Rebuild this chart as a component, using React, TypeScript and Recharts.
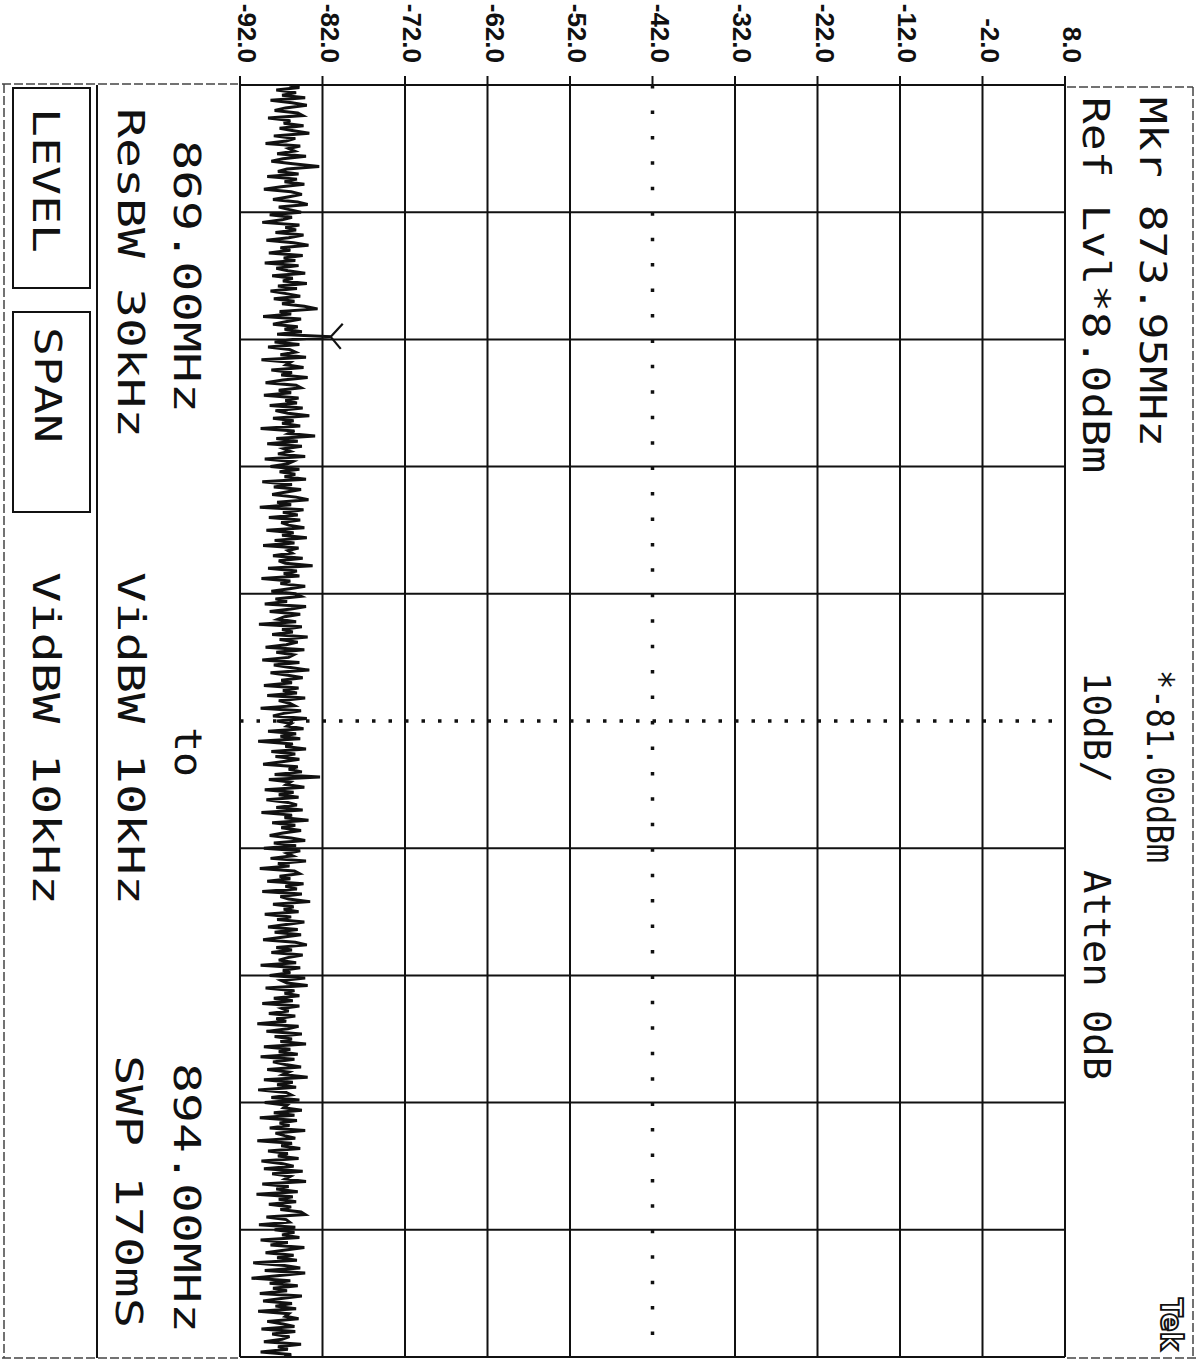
import React from 'react';
import { LineChart, Line, XAxis, YAxis, ReferenceLine, ReferenceDot } from 'recharts';

// ---- data ----
const dbTicks = [-92, -82, -72, -62, -52, -42, -32, -22, -12, -2, 8];
const freqGridMHz = [869, 871.5, 874, 876.5, 879, 881.5, 884, 886.5, 889, 891.5, 894];
const startFreqMHz = 869;
const stopFreqMHz = 894;
const centerDb = -42;
const centerFreqMHz = 881.5;
const markerFreqMHz = 873.95;
const markerLevelDbm = -81.0;

const levelsDbm = [
  -86.0, -84.8, -87.6, -85.2, -86.9, -84.1, -88.3, -85.7, -83.9, -86.5, -87.8, -85.0, -84.4, -88.6, -85.9, -86.7, -84.3, -87.2, -85.5, -83.6,
  -87.9, -85.3, -86.4, -88.9, -84.7, -86.1, -85.4, -87.5, -84.0, -86.8, -88.2, -85.6, -82.4, -86.3, -87.4, -84.9, -88.7, -85.1, -86.6, -84.2,
  -87.0, -89.1, -85.8, -84.5, -86.2, -88.0, -85.0, -83.8, -87.3, -86.0, -84.6, -88.4, -85.7, -86.9, -89.3, -84.8, -86.5, -85.2, -87.7, -84.3,
  -86.1, -88.8, -85.5, -83.7, -87.1, -85.9, -88.5, -84.4, -86.7, -85.3, -89.0, -84.9, -87.6, -86.2, -84.1, -88.1, -85.6, -86.8, -83.9, -87.4,
  -85.1, -88.3, -86.4, -84.7, -87.9, -85.4, -86.9, -84.2, -82.6, -87.2, -85.8, -89.2, -84.6, -86.3, -88.0, -85.0, -86.6, -84.5, -87.5, -81.0,
  -85.6, -87.8, -84.8, -88.6, -86.0, -85.3, -87.1, -84.0, -89.4, -85.9, -86.4, -84.3, -88.2, -85.7, -87.0, -83.8, -86.8, -88.9, -85.2, -84.6,
  -87.3, -85.8, -89.1, -84.9, -86.5, -85.1, -88.4, -84.4, -87.7, -86.2, -83.6, -88.0, -85.5, -86.9, -84.7, -89.5, -85.4, -86.1, -82.9, -87.6,
  -85.0, -88.7, -84.5, -86.7, -85.9, -87.4, -84.1, -89.0, -85.6, -86.3, -88.3, -84.8, -87.2, -85.3, -86.6, -84.0, -89.3, -85.7, -87.9, -84.6,
  -86.4, -88.1, -85.2, -83.7, -87.5, -85.8, -89.6, -84.3, -86.8, -85.0, -88.5, -84.7, -87.0, -86.1, -84.2, -88.8, -85.5, -86.9, -83.9, -87.8,
  -85.4, -89.2, -84.9, -86.2, -85.7, -88.0, -84.4, -87.3, -86.5, -83.2, -88.6, -85.1, -86.7, -84.8, -89.4, -85.9, -87.1, -84.1, -86.0, -88.2,
  -85.3, -84.6, -87.7, -86.3, -89.0, -84.0, -85.8, -88.4, -84.7, -86.6, -87.4, -85.2, -89.7, -84.5, -86.9, -85.6, -88.1, -83.8, -87.2, -85.0,
  -86.4, -88.9, -84.2, -87.6, -85.5, -86.1, -89.3, -84.8, -87.9, -85.9, -83.6, -88.3, -86.2, -84.4, -87.0, -85.7, -89.1, -84.9, -86.8, -85.1,
  -88.7, -84.1, -87.3, -86.0, -85.4, -89.5, -84.6, -86.7, -88.0, -83.9, -87.5, -85.8, -86.3, -84.3, -88.6, -85.2, -87.1, -84.7, -89.8, -85.6,
  -86.5, -84.0, -88.2, -85.3, -87.7, -84.8, -86.9, -89.2, -85.0, -86.1, -84.5, -87.8, -82.3, -88.5, -85.9, -86.4, -84.2, -89.0, -85.5, -87.3,
  -84.9, -88.8, -86.2, -85.1, -87.6, -84.4, -89.4, -85.7, -86.6, -83.7, -88.1, -85.3, -87.0, -84.6, -86.8, -88.4, -85.8, -84.1, -87.9, -85.2,
  -89.1, -84.7, -86.3, -85.6, -88.3, -84.0, -87.4, -86.0, -89.6, -85.4, -84.8, -87.2, -85.9, -88.7, -84.3, -86.5, -85.1, -89.3, -84.5, -87.1,
  -86.1, -83.5, -88.0, -85.5, -86.7, -84.9, -89.0, -85.8, -87.5, -84.2, -86.4, -88.6, -85.0, -87.8, -84.6, -86.9, -89.2, -85.3, -83.9, -87.6,
  -85.7, -88.2, -84.4, -86.2, -87.3, -85.2, -89.5, -84.7, -86.8, -85.9, -88.4, -84.1, -87.0, -86.3, -83.8, -88.9, -85.4, -86.6, -84.8, -87.9,
  -85.6, -89.3, -84.8, -86.9, -86.1, -88.5, -85.3, -87.6, -86.4, -89.9, -84.9, -86.2, -88.8, -84.5, -87.8, -85.7, -87.1, -84.0, -89.1, -85.9,
  -87.3, -85.0, -89.5, -85.4, -88.0, -86.5, -84.6, -88.7, -86.1, -86.8, -83.8, -89.1, -85.6, -87.5, -85.2, -89.8, -86.4, -85.8, -88.2, -84.8,
  -89.0, -86.3, -86.7, -84.5, -87.9, -85.4, -89.6, -85.1, -87.2, -86.0, -88.4, -84.1, -87.7, -86.6, -85.3, -89.9, -85.7, -87.0, -84.7, -88.6,
  -86.2, -87.4, -84.9, -89.4, -86.8, -85.5, -89.1, -84.4, -88.1, -85.9, -86.5, -84.0, -89.3, -86.1, -87.6, -85.0, -90.0, -85.6, -87.3, -85.2,
  -88.5, -85.8, -87.1, -84.6, -84.1, -88.8, -86.4, -86.0, -89.7, -85.3, -87.8, -85.4, -86.9, -84.8, -89.5, -86.2, -88.3, -84.2, -86.7, -88.9,
  -85.5, -87.5, -85.1, -90.4, -86.6, -84.7, -89.0, -84.1, -87.2, -90.6, -85.9, -88.4, -85.0, -88.0, -86.3, -89.6, -84.5, -87.0, -89.2, -85.7,
  -87.7, -85.2, -89.8, -86.1, -86.5, -84.9, -88.7, -86.8, -85.4, -89.4, -85.3, -88.1, -86.0, -86.9, -89.1, -84.6, -87.4, -86.2, -89.5, -85.8,
  -86.6,
];

const data = levelsDbm.map((level, i) => ({
  freq: startFreqMHz + (i * (stopFreqMHz - startFreqMHz)) / (levelsDbm.length - 1),
  level,
}));

const INK = '#111';
const MONO = "'DejaVu Sans Mono', 'Liberation Mono', monospace";

const RotText = ({ x, y, len, children, size = 37 }: any) => (
  <text
    x={x}
    y={y}
    transform={`rotate(90 ${x} ${y})`}
    fontFamily={MONO}
    fontSize={size}
    textLength={len}
    lengthAdjust="spacingAndGlyphs"
    fill={INK}
  >
    {children}
  </text>
);

const DbTick = (props: any) => {
  const { x, y, payload } = props;
  const bx = x - 2;
  const by = y - 11;
  return (
    <text
      x={bx}
      y={by}
      transform={`rotate(90 ${bx} ${by})`}
      textAnchor="end"
      fontFamily="'Liberation Sans Narrow', 'Liberation Sans', Arial, sans-serif"
      fontWeight="bold"
      fontSize={26}
      fill={INK}
    >
      {Number(payload.value).toFixed(1)}
    </text>
  );
};

const MarkerShape = (props: any) => {
  const { cx, cy } = props;
  return (
    <g stroke={INK} strokeWidth={2.2} fill="none">
      <line x1={cx - 4} y1={cy} x2={cx} y2={cy} />
      <line x1={cx} y1={cy} x2={cx + 12} y2={cy - 13} />
      <line x1={cx} y1={cy} x2={cx + 10} y2={cy + 12} />
    </g>
  );
};

export default function App() {
  return (
    <div style={{ position: 'absolute', left: 0, top: 0, width: 1199, height: 1361, background: '#fff' }}>
      <LineChart
        width={1199}
        height={1361}
        layout="vertical"
        data={data}
        margin={{ top: 5, left: 240, right: 134, bottom: 4 }}
      >
        <XAxis
          type="number"
          orientation="top"
          domain={[-92, 8]}
          ticks={dbTicks}
          allowDataOverflow
          height={80}
          tickSize={9}
          tickMargin={2}
          tick={<DbTick />}
          axisLine={{ stroke: INK, strokeWidth: 2 }}
          tickLine={{ stroke: INK, strokeWidth: 2 }}
        />
        <YAxis type="number" dataKey="freq" domain={[startFreqMHz, stopFreqMHz]} hide allowDataOverflow />
        {dbTicks.map((d) =>
          d === centerDb ? (
            <ReferenceLine key={'x' + d} x={d} stroke={INK} strokeWidth={3.5} strokeDasharray="3.5 21.94" />
          ) : (
            <ReferenceLine key={'x' + d} x={d} stroke={INK} strokeWidth={2} />
          )
        )}
        {freqGridMHz.map((f) =>
          f === centerFreqMHz ? (
            <ReferenceLine key={'y' + f} y={f} stroke={INK} strokeWidth={3.5} strokeDasharray="3.5 13" />
          ) : (
            <ReferenceLine key={'y' + f} y={f} stroke={INK} strokeWidth={2} />
          )
        )}
        <Line
          type="linear"
          dataKey="level"
          stroke={INK}
          strokeWidth={3}
          dot={false}
          isAnimationActive={false}
        />
        <ReferenceDot x={markerLevelDbm} y={markerFreqMHz} shape={<MarkerShape />} />
      </LineChart>

      <svg
        width={1199}
        height={1361}
        style={{ position: 'absolute', left: 0, top: 0, pointerEvents: 'none' }}
      >
        {/* outer frame */}
        <g stroke="#444" strokeWidth={1.5} strokeDasharray="9 3" fill="none">
          <line x1={2} y1={84} x2={238} y2={84} />
          <line x1={1067} y1={87} x2={1193} y2={87} />
          <line x1={4} y1={84} x2={4} y2={1358} />
          <line x1={1193} y1={87} x2={1193} y2={1358} />
          <line x1={2} y1={1358} x2={238} y2={1358} />
          <line x1={1067} y1={1358} x2={1196} y2={1358} />
        </g>
        {/* left panel separator and soft-key boxes */}
        <line x1={97} y1={85} x2={97} y2={1358} stroke={INK} strokeWidth={2} />
        <rect x={13} y={88} width={77} height={200} fill="none" stroke={INK} strokeWidth={2} />
        <rect x={13} y={312} width={77} height={200} fill="none" stroke={INK} strokeWidth={2} />

        {/* left panel text */}
        <RotText x={33} y={108} len={145}>LEVEL</RotText>
        <RotText x={35} y={327} len={116}>SPAN</RotText>
        <RotText x={33} y={572} len={333}>VidBW 10kHz</RotText>
        <RotText x={118} y={108} len={330}>ResBW 30kHz</RotText>
        <RotText x={118} y={572} len={333}>VidBW 10kHz</RotText>
        <RotText x={116} y={1055} len={273}>SWP 170mS</RotText>
        <RotText x={174} y={140} len={273}>869.00MHz</RotText>
        <RotText x={175} y={727} len={50}>to</RotText>
        <RotText x={174} y={1063} len={270}>894.00MHz</RotText>

        {/* right panel text */}
        <RotText x={1140} y={97} len={350}>Mkr 873.95MHz</RotText>
        <RotText x={1083} y={97} len={376}>Ref Lvl*8.0dBm</RotText>
        <RotText x={1147} y={670} len={193}>*-81.00dBm</RotText>
        <RotText x={1084} y={672} len={111}>10dB/</RotText>
        <RotText x={1084} y={870} len={210}>Atten 0dB</RotText>
        <text
          x={1161}
          y={1298}
          transform="rotate(90 1161 1298)"
          fontFamily="'DejaVu Sans', sans-serif"
          fontWeight="bold"
          fontSize={31}
          textLength={52}
          lengthAdjust="spacingAndGlyphs"
          fill="#fff"
          stroke={INK}
          strokeWidth={2}
        >
          Tek
        </text>
      </svg>
    </div>
  );
}
